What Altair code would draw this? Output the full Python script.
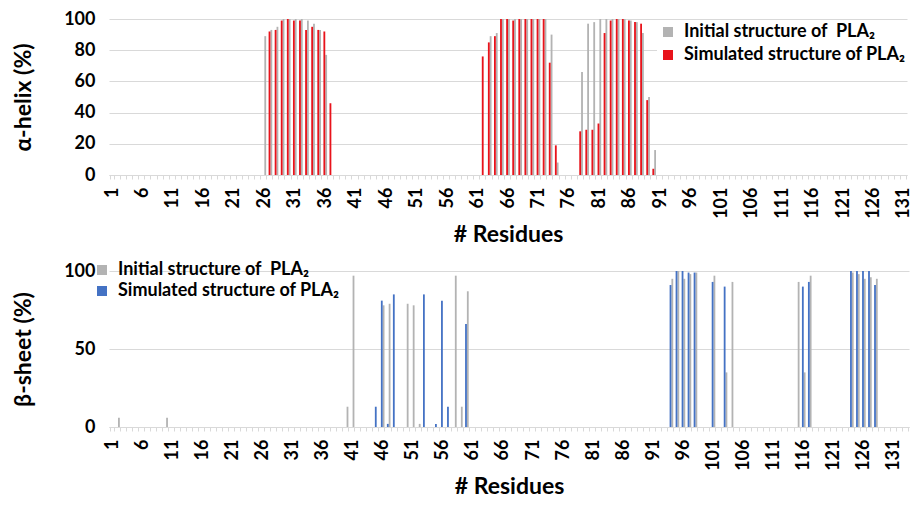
import altair as alt
import pandas as pd

TOP_N = 131
BOTTOM_N = 133
top_residues = list(range(1, TOP_N + 1))
bottom_residues = list(range(1, BOTTOM_N + 1))

INIT = "Initial structure of\u00a0 PLA₂"
SIM = "Simulated structure of PLA₂"

# ---- alpha-helix (%) ----
helix_res = [26, 27, 28, 29, 30, 31, 32, 33, 34, 35, 36, 37,
             62, 63, 64, 65, 66, 67, 68, 69, 70, 71, 72, 73, 74,
             78, 79, 80, 81, 82, 83, 84, 85, 86, 87, 88, 89, 90]
helix_initial = [89, 93, 95, 100, 100, 100, 100, 99, 97, 93, 77, 0,
                 0, 89, 91, 100, 100, 100, 100, 100, 100, 100, 100, 90, 8,
                 66, 97, 98, 100, 100, 100, 100, 100, 99, 98, 91, 50, 16]
helix_simulated = [0, 92, 93, 99, 100, 99, 99, 93, 95, 93, 92, 46,
                   76, 85, 89, 100, 100, 99, 100, 100, 100, 100, 100, 72, 19,
                   28, 29, 29, 33, 91, 99, 100, 100, 99, 98, 97, 48, 4]

# ---- beta-sheet (%) ----
sheet_init_res = [2, 10, 40, 41, 46, 47, 50, 51, 52, 58, 59, 60,
                  94, 95, 96, 97, 98, 101, 103, 104, 115, 116, 117,
                  124, 125, 126, 127, 128]
sheet_initial = [6, 6, 13, 97, 78, 79, 79, 78, 2, 97, 13, 87,
                 95, 100, 95, 98, 99, 97, 35, 93, 93, 35, 97,
                 99, 98, 95, 96, 95]
sheet_sim_res = [45, 46, 47, 48, 53, 55, 56, 57, 60,
                 94, 95, 96, 97, 98, 101, 103, 116, 117,
                 124, 125, 126, 127, 128]
sheet_simulated = [13, 81, 2, 85, 85, 2, 81, 13, 66,
                   91, 100, 100, 99, 99, 93, 90, 90, 93,
                   100, 100, 100, 100, 91]

helix_df = pd.concat([
    pd.DataFrame({"residue": helix_res, "value": helix_initial, "structure": INIT}),
    pd.DataFrame({"residue": helix_res, "value": helix_simulated, "structure": SIM}),
])
sheet_df = pd.concat([
    pd.DataFrame({"residue": sheet_init_res, "value": sheet_initial, "structure": INIT}),
    pd.DataFrame({"residue": sheet_sim_res, "value": sheet_simulated, "structure": SIM}),
])

FONT = "Lato"


def panel(df, domain, colors, ytitle, yvals, width, height, lx, ly, lfill, rowpad):
    return alt.Chart(df).mark_bar().encode(
        x=alt.X("residue:O",
                scale=alt.Scale(domain=domain, paddingInner=0.4, paddingOuter=0.2),
                axis=alt.Axis(title="# Residues",
                              labelExpr="(datum.value - 1) % 5 == 0 ? datum.label : ''",
                              labelAngle=270, labelOverlap=False,
                              labelFontSize=18, labelFontWeight="bold",
                              labelPadding=8, titlePadding=5,
                              titleFontSize=23, titleFontWeight="bold",
                              domainColor="#d9d9d9", tickColor="#d9d9d9",
                              tickSize=4, tickBand="extent", grid=False)),
        xOffset=alt.XOffset("structure:N", scale=alt.Scale(domain=[SIM, INIT])),
        y=alt.Y("value:Q", scale=alt.Scale(domain=[0, 100]),
                axis=alt.Axis(title=ytitle, values=yvals, ticks=False, domain=False,
                              labelFontSize=18, labelFontWeight="bold",
                              labelPadding=14, titlePadding=28,
                              titleFontSize=23, titleFontWeight="bold",
                              gridColor="#d9d9d9")),
        color=alt.Color("structure:N",
                        scale=alt.Scale(domain=[INIT, SIM], range=colors),
                        legend=alt.Legend(title=None, orient="none", legendX=lx, legendY=ly,
                                          symbolType="square", symbolSize=100,
                                          symbolStrokeWidth=0, labelLimit=0,
                                          labelFontSize=18, labelFontWeight="bold",
                                          labelOffset=7, rowPadding=rowpad, padding=2,
                                          fillColor=lfill)),
    ).properties(width=width, height=height)


top = panel(helix_df, top_residues, ["#b3b3b3", "#e8131b"], "α-helix (%)",
            [0, 20, 40, 60, 80, 100], 798, 156, 548, 2, "white", 5)
bottom = panel(sheet_df, bottom_residues, ["#b3b3b3", "#4472c4"], "β-sheet (%)",
               [0, 50, 100], 800, 156, -18, -12, "transparent", 3)

chart = alt.vconcat(top, bottom, spacing=12).resolve_scale(
    color="independent", x="independent", xOffset="independent"
).configure(font=FONT).configure_view(stroke=None).configure_axis(
    labelColor="#000000", titleColor="#000000"
).properties(padding={"left": 4, "top": 2, "right": 0, "bottom": 2})

chart.save("out.html", embed_options={"renderer": "svg", "actions": False})
